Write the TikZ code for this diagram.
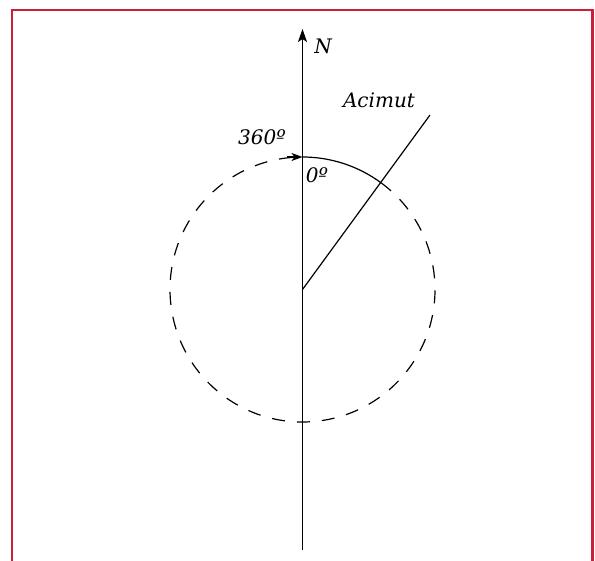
\documentclass[tikz,border=0pt]{standalone}
\usepackage{fontspec}
\setmainfont{DejaVu Serif}
\usetikzlibrary{arrows.meta}
\definecolor{frame}{HTML}{C8203A}
\tikzset{
  lbl/.style={font=\fontsize{20}{24}\selectfont\itshape, inner sep=0pt},
  ln/.style={line width=1.2pt, black},
  dsh/.style={line width=1.2pt, black, dash pattern=on 13pt off 12pt},
}
\begin{document}
\begin{tikzpicture}[x=1pt,y=-1pt]
\useasboundingbox (0,0) rectangle (595,561);
\fill[white] (0,0) rectangle (595,561);
\draw[frame, line width=2.2pt] (12,563) -- (12,10) -- (592.5,10) -- (592.5,563);
\coordinate (C) at (302.5,289.5);
\coordinate (top) at (302.5,29);
\coordinate (bot) at (302.5,550);
\coordinate (T) at (302.5,157);
\coordinate (A) at (430,115);
\coordinate (arrs) at (287,157);
% dashed circle
\draw[dsh] (C) ++(-53.7:132.5) arc[start angle=-53.7, end angle=270, radius=132.5];
% solid arc
\draw[ln] (T) arc[start angle=-90, end angle=-53.7, radius=132.5] coordinate (I);
% north axis
\draw[ln, -{Stealth[length=13pt,width=9pt,inset=3pt]}] (bot) -- (top);
% azimuth line
\draw[ln] (C) -- (A);
% 360 arrow
\draw[ln, -{Stealth[length=11pt,width=8pt,inset=3pt]}] (arrs) -- (T);
\node[lbl] (n) at (323,46) {N};
\node[lbl] (az) at (379,100) {Acimut};
\node[lbl] (d360) at (262,137) {360º};
\node[lbl] (d0) at (317,175) {0º};
\end{tikzpicture}
\end{document}
